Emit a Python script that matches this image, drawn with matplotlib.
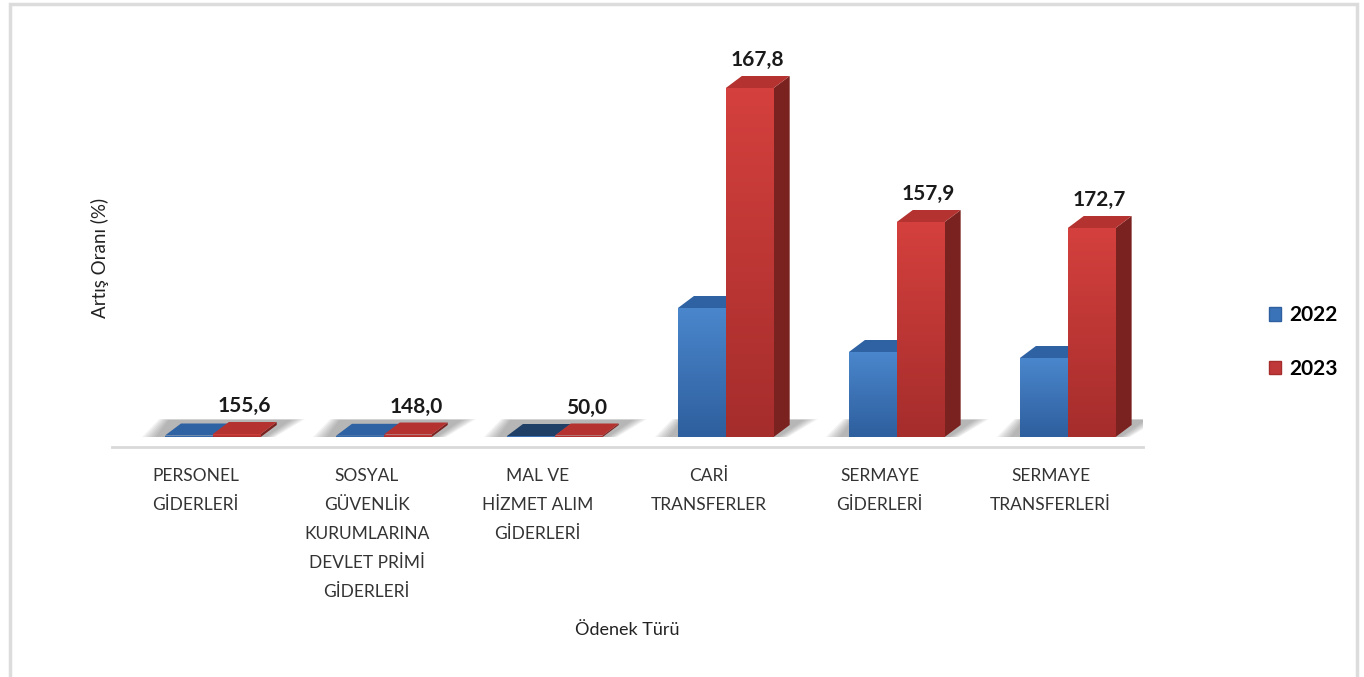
import numpy as np
import matplotlib.pyplot as plt
from matplotlib.patches import Polygon, Rectangle, Patch
from matplotlib.colors import LinearSegmentedColormap

plt.rcParams['font.family'] = ['Lato', 'DejaVu Sans']

kategoriler = ['PERSONEL\nGİDERLERİ',
               'SOSYAL\nGÜVENLİK\nKURUMLARINA\nDEVLET PRİMİ\nGİDERLERİ',
               'MAL VE\nHİZMET ALIM\nGİDERLERİ',
               'CARİ\nTRANSFERLER',
               'SERMAYE\nGİDERLERİ',
               'SERMAYE\nTRANSFERLERİ']
yillar = ['2022', '2023']
# bar heights (arbitrary units, no y scale shown)
odenek_2022 = [1.5, 1.2, 1.0, 129, 85, 79]
odenek_2023 = [3.0, 2.5, 1.5, 349, 215, 209]
artis_etiket = ['155,6', '148,0', '50,0', '167,8', '157,9', '172,7']

W, H = 1364, 677
fig = plt.figure(figsize=(W / 100, H / 100), dpi=100)
fig.set_facecolor('white')

# outer frame like the pasted chart
fig.patches.append(Rectangle((10 / W, -0.05), 1347 / W, 1.05 - 4 / H, transform=fig.transFigure,
                             fill=False, edgecolor='#dcdcdc', lw=2.5, zorder=0))

ax = fig.add_axes([112 / W, 1 - 447 / H, 1031 / W, 407 / H])
ax.set_facecolor('none')

x = np.arange(len(kategoriler))
w = 0.28          # width of one bar front face
dx = 16 / 171     # depth offset in x
dy = 12           # depth offset in y

def grad_rect(x0, y0, width, height, c_top, c_bot, z):
    rect = Rectangle((x0, y0), width, height, facecolor='none', edgecolor='none', zorder=z)
    ax.add_patch(rect)
    cmap = LinearSegmentedColormap.from_list('g', [c_bot, c_top])
    grad = np.linspace(0, 1, 64).reshape(-1, 1)
    im = ax.imshow(grad, cmap=cmap, extent=[x0, x0 + width, y0, y0 + height],
                   origin='lower', aspect='auto', zorder=z, interpolation='bilinear')
    im.set_clip_path(rect)

def shadow(xl, xr):
    # soft floor shadow around each group
    n = 7
    for k in range(n):
        e = 0.009 * (n - k)
        pts = [(xl - 0.04 - e * 1.5, 0), (xr + 0.02 + e, 0),
               (xr + dx + 0.07 + e * 1.5, dy + 5 + e * 15), (xl + 0.03 - e, dy + 5 + e * 15)]
        ax.add_patch(Polygon(pts, closed=True, facecolor='#505050', alpha=0.07,
                             edgecolor='none', zorder=1))

def bar3d(x0, h, front, side, top, z, draw_side):
    grad_rect(x0, 0, w, h, front[0], front[1], z)
    tp = [(x0, h), (x0 + w, h), (x0 + w + dx, h + dy), (x0 + dx, h + dy)]
    ax.add_patch(Polygon(tp, closed=True, facecolor=top, edgecolor='none', zorder=z))
    if draw_side:
        sp = [(x0 + w, 0), (x0 + w + dx, dy), (x0 + w + dx, h + dy), (x0 + w, h)]
        ax.add_patch(Polygon(sp, closed=True, facecolor=side, edgecolor='none', zorder=z - 0.5))

for i in range(len(kategoriler)):
    xl = x[i] - w
    xr = x[i] + w
    shadow(xl, xr)
    bar3d(xl, odenek_2022[i], ('#4a86cc', '#2e5f9e'), '#234a7c',
          '#1f3f66' if i == 2 else '#2f62a3', 3, False)
    bar3d(x[i], odenek_2023[i], ('#d4403d', '#a52d2c'), '#7a2220', '#b43331', 3, True)
    ax.text(x[i] + w / 2 + dx / 2, odenek_2023[i] + dy + 6, artis_etiket[i],
            ha='center', va='bottom', fontsize=15, fontweight='bold', color='#1a1a1a', zorder=5)

ax.set_xlim(-0.59, 5.44)
ax.set_ylim(-10, 397)

ax.set_xticks(x - 0.1)
ax.set_xticklabels(kategoriler, fontsize=12.5, color='#333333', linespacing=2.0, va='top')
ax.tick_params(axis='x', length=0, pad=15)
ax.set_yticks([])
for s in ['top', 'right', 'left']:
    ax.spines[s].set_visible(False)
ax.spines['bottom'].set_color('#d9d9d9')
ax.spines['bottom'].set_linewidth(2)

ax.set_xlabel('Ödenek Türü', fontsize=13, color='#222222', labelpad=16)
fig.text(100 / W, 1 - 258 / H, 'Artış Oranı (%)', rotation=90, ha='center', va='center',
         fontsize=13.5, color='#222222')

handles = [Patch(facecolor='#3b73b9', edgecolor='#2e5f9e'),
           Patch(facecolor='#c0393a', edgecolor='#a52d2c')]
fig.legend(handles, yillar, loc='center left', bbox_to_anchor=(1250 / W, 1 - 342 / H),
           frameon=False, handlelength=0.6, handleheight=0.6, handletextpad=0.4,
           labelspacing=1.6, prop={'weight': 'bold', 'size': 15})

fig.savefig('out.png', dpi=100)
